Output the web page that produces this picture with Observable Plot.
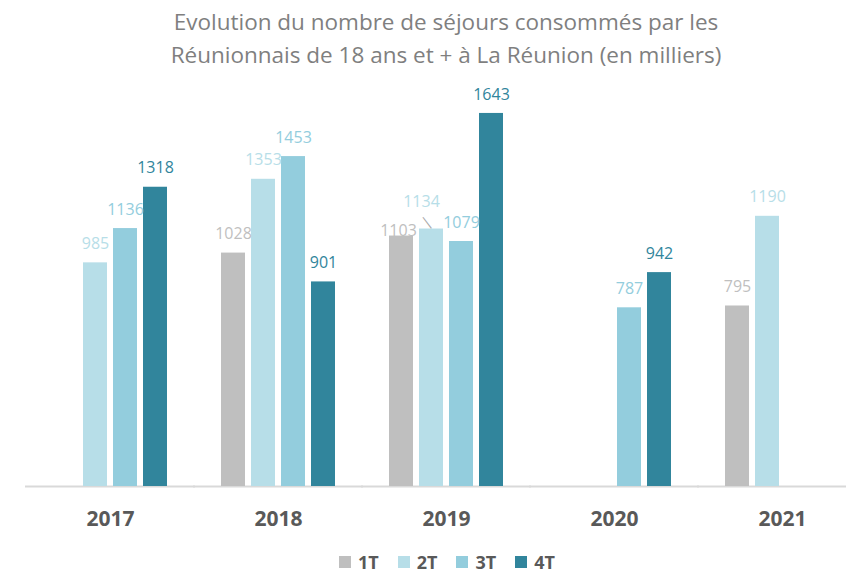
<!DOCTYPE html>
<html>
<head>
<meta charset="utf-8">
<script src="https://cdn.jsdelivr.net/npm/d3@7"></script>
<script src="https://cdn.jsdelivr.net/npm/@observablehq/plot@0.6"></script>
<style>
html, body { margin: 0; padding: 0; background: #fff; overflow: hidden; }
body { width: 846px; height: 575px; font-family: "Open Sans", sans-serif; }
#title { height: 80px; box-sizing: border-box; padding-top: 5px; padding-left: 46px; text-align: center;
  color: #7f7f7f; font-size: 22.5px; line-height: 33px; white-space: nowrap; }
#chart svg { display: block; }
#legend { height: 30px; box-sizing: border-box; padding-left: 339px; padding-top: 8px; }
.lg-swatch { margin-right: 19px !important; line-height: 18px !important; }
.lg-swatch > svg { margin-right: 7px !important; }
</style>
</head>
<body>
<div id="title">Evolution du nombre de séjours consommés par les<br>Réunionnais de 18 ans et + à La Réunion (en milliers)</div>
<div id="chart"></div>
<div id="legend"></div>
<script>
const years = ["2017", "2018", "2019", "2020", "2021"];
const quarters = ["1T", "2T", "3T", "4T"];
const q1 = [null, 1028, 1103, null, 795];
const q2 = [985, 1353, 1134, null, 1190];
const q3 = [1136, 1453, 1079, 787, null];
const q4 = [1318, 901, 1643, 942, null];
const colors = ["#bfbfbf", "#b7dee8", "#93cddd", "#31859c"];

const series = [q1, q2, q3, q4];
const rows = [];
years.forEach((year, i) => {
  quarters.forEach((quarter, j) => {
    const value = series[j][i];
    if (value != null) rows.push({year, quarter, value});
  });
});
const isA = d => d.year === "2019" && d.quarter === "1T";
const isB = d => d.year === "2019" && d.quarter === "2T";

const plot = Plot.plot({
  width: 846,
  height: 465,
  marginLeft: 48,
  marginRight: 3,
  marginTop: 20,
  marginBottom: 59,
  facet: {data: rows, x: "year"},
  fx: {domain: years, paddingInner: 0.275, paddingOuter: 0, label: null},
  x: {domain: quarters, paddingInner: 0.21, paddingOuter: 0.105, axis: null},
  y: {domain: [0, 1700], axis: null},
  color: {domain: quarters, range: colors},
  style: {fontFamily: "Open Sans", background: "transparent"},
  marks: [
    Plot.ruleY([0], {stroke: "#d9d9d9", strokeWidth: 2, insetLeft: -24, insetRight: -24}),
    Plot.barY(rows, {x: "quarter", y: "value", fill: "quarter"}),
    Plot.text(rows, {filter: d => !isA(d) && !isB(d), x: "quarter", y: "value", text: d => String(d.value),
      fill: "quarter", dy: -19, fontSize: 16}),
    Plot.text(rows, {filter: isA, x: "quarter", y: "value", text: d => String(d.value),
      fill: "quarter", dx: -3, dy: -5, fontSize: 16}),
    Plot.text(rows, {filter: isB, x: "quarter", y: "value", text: d => String(d.value),
      fill: "quarter", dx: -10, dy: -27, fontSize: 16}),
    Plot.text(rows, {filter: isB, x: "quarter", y: "value", text: () => "|",
      fill: "#a6a6a6", dx: -5, dy: -7, rotate: -37, fontSize: 14}),
    Plot.axisFx({anchor: "bottom", tickSize: 0, tickPadding: 25, fontSize: 21, fontWeight: "bold",
      fill: "#595959", label: null})
  ]
});
document.getElementById("chart").appendChild(plot);

const legend = Plot.legend({
  color: {domain: quarters, range: colors},
  swatchSize: 12,
  className: "lg",
  style: {fontFamily: "Open Sans", fontSize: "18px", fontWeight: "bold", color: "#595959", margin: "0",
    minHeight: "0", lineHeight: "18px"}
});
document.getElementById("legend").appendChild(legend);
</script>
</body>
</html>
